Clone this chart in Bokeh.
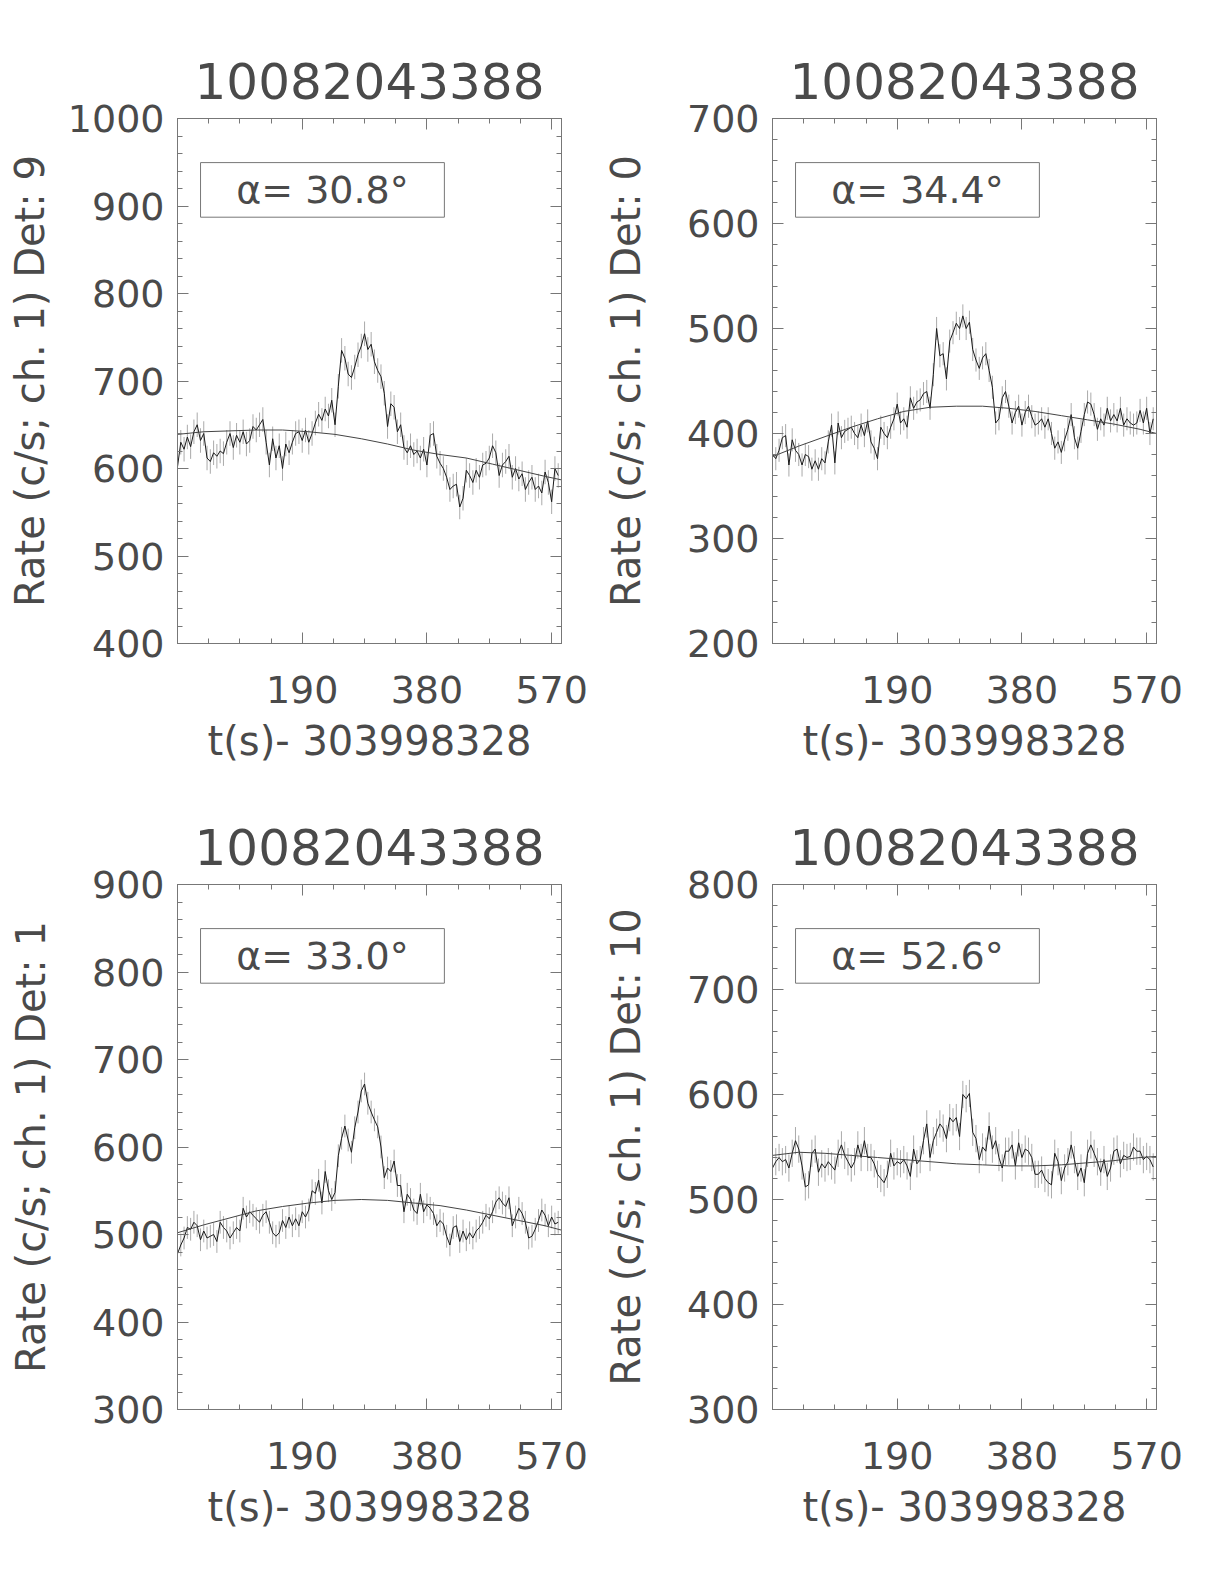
import numpy as np
from bokeh.plotting import figure
from bokeh.layouts import column, row
from bokeh.models import Range1d, LinearAxis, FixedTicker, SingleIntervalTicker
from bokeh.embed import file_html
from bokeh.resources import INLINE
from bokeh.core.properties import value

# ---------------- data ----------------
TITLE = "10082043388"
XLABEL = "t(s)- 303998328"
BIN_S = 5.0                      # time bin of the light curves (s)
X_MAX = 585
X_MAJOR = [190, 380, 570]
X_MINOR = [47.5, 95, 142.5, 237.5, 285, 332.5, 427.5, 475, 522.5]

det_labels = ["Rate (c/s; ch. 1) Det: 9", "Rate (c/s; ch. 1) Det: 0",
              "Rate (c/s; ch. 1) Det: 1", "Rate (c/s; ch. 1) Det: 10"]
alpha_deg = [30.8, 34.4, 33.0, 52.6]
y_ranges = [(400, 1000), (200, 700), (300, 900), (300, 800)]
rate_err = [14, 11, 13, 13]

rate_det9 = [602, 630, 622, 636, 625, 642, 650, 632, 640, 612, 608, 618, 614, 620, 617,
             630, 640, 624, 638, 630, 642, 628, 632, 648, 644, 650, 656, 630, 604, 634,
             612, 626, 600, 628, 618, 630, 640, 642, 632, 644, 630, 640, 652, 662, 655,
             668, 660, 678, 650, 694, 735, 726, 708, 704, 716, 730, 740, 754, 736,
             742, 722, 712, 705, 686, 648, 674, 670, 642, 650, 624, 618, 626, 616, 620,
             612, 622, 604, 638, 640, 614, 606, 600, 590, 576, 580, 582, 556, 566, 598,
             592, 584, 598, 590, 604, 606, 612, 626, 618, 592, 604, 608, 614, 590, 600,
             588, 594, 576, 584, 590, 576, 580, 572, 596, 584, 562, 600, 592]

rate_det0 = [380, 376, 384, 396, 398, 370, 394, 384, 380, 370, 380, 378, 366, 374, 366,
             376, 372, 392, 408, 372, 410, 396, 402, 404, 406, 400, 396, 408, 398, 412,
             392, 386, 376, 406, 400, 396, 406, 414, 428, 410, 414, 406, 434, 424, 430,
             432, 438, 440, 424, 456, 500, 474, 476, 452, 488, 496, 505, 500, 512,
             500, 506, 480, 470, 462, 472, 476, 460, 444, 410, 414, 434, 440, 426, 410,
             420, 426, 408, 420, 426, 416, 408, 410, 414, 406, 414, 400, 386, 392, 382,
             394, 404, 418, 396, 386, 402, 418, 430, 428, 418, 404, 414, 408, 424, 412,
             418, 412, 424, 408, 414, 410, 408, 410, 422, 410, 424, 400, 414]

rate_det1 = [478, 488, 496, 508, 506, 514, 510, 494, 504, 496, 498, 500, 492, 514, 508,
             504, 496, 502, 508, 504, 530, 520, 526, 522, 518, 514, 522, 526, 514, 502,
             498, 502, 516, 508, 520, 510, 518, 510, 526, 520, 528, 550, 547, 562, 536,
             572, 550, 540, 548, 590, 610, 624, 608, 594, 622, 640, 664, 672, 650,
             640, 631, 623, 600, 565, 576, 572, 584, 556, 556, 526, 546, 540, 528, 524,
             546, 526, 534, 530, 524, 510, 516, 512, 498, 488, 508, 510, 492, 504, 494,
             502, 496, 504, 508, 514, 522, 518, 526, 537, 542, 536, 532, 542, 510, 520,
             530, 524, 514, 496, 498, 506, 516, 528, 522, 510, 520, 512, 514]

rate_det10 = [530, 536, 540, 536, 538, 530, 544, 556, 548, 532, 512, 514, 544, 548, 526,
              534, 530, 536, 532, 528, 544, 552, 542, 536, 530, 536, 552, 540, 556, 540,
              540, 534, 524, 520, 516, 524, 544, 532, 536, 534, 538, 532, 522, 548, 534,
              538, 556, 572, 540, 556, 564, 572, 568, 558, 578, 574, 578, 560, 600,
              596, 601, 564, 558, 538, 550, 546, 570, 548, 556, 540, 530, 546, 546, 552,
              532, 554, 540, 548, 546, 540, 524, 524, 528, 520, 516, 514, 544, 536, 518,
              530, 536, 552, 538, 522, 530, 516, 544, 552, 544, 536, 526, 538, 522, 530,
              546, 548, 534, 542, 540, 541, 550, 546, 546, 538, 541, 538, 531]

bkg_t = [0, 40, 80, 120, 160, 200, 240, 280, 320, 360, 400, 440, 480, 520, 560, 585]
bkg_det9 = [639, 642, 643, 644, 644, 642, 639, 634, 628, 621, 616, 612, 605, 598, 591, 587]
bkg_det0 = [378, 388, 397, 406, 414, 421, 425, 426, 426, 424, 421, 417, 413, 409, 404, 400]
bkg_det1 = [502, 511, 519, 527, 532, 536, 539, 540, 539, 536, 533, 528, 522, 516, 510, 505]
bkg_det10 = [542, 545, 544, 542, 540, 538, 536, 534, 533, 532, 532, 533, 535, 537, 540, 541]

rates = [rate_det9, rate_det0, rate_det1, rate_det10]
bkgs = [bkg_det9, bkg_det0, bkg_det1, bkg_det10]

# ---------------- style ----------------
FONT = "DejaVu Sans"
TEXT = "#4a4a4a"
FRAME = "#777777"
ylab_standoff = [12, 35, 35, 35]


def style_axis(ax, show_labels=True):
    ax.axis_line_color = FRAME
    ax.axis_line_width = 1
    ax.major_tick_line_color = FRAME
    ax.minor_tick_line_color = FRAME
    ax.major_tick_in = 11
    ax.major_tick_out = 0
    ax.minor_tick_in = 5
    ax.minor_tick_out = 0
    ax.major_label_text_font = FONT
    ax.axis_label_text_font = FONT
    ax.axis_label_text_font_size = "40px"
    ax.axis_label_text_font_style = "normal"
    ax.axis_label_text_color = TEXT
    if show_labels:
        ax.major_label_text_font_size = "38px"
        ax.major_label_text_color = TEXT
    else:
        ax.major_label_text_font_size = "1px"
        ax.major_label_text_color = None
        ax.major_label_text_alpha = 0
        ax.major_label_standoff = 0


def make_panel(i):
    lo, hi = y_ranges[i]
    p = figure(width=595, height=766,
               x_range=Range1d(0, X_MAX), y_range=Range1d(lo, hi),
               output_backend="svg", toolbar_location=None,
               min_border_left=177, min_border_right=34,
               min_border_top=118, min_border_bottom=122)
    p.background_fill_color = "white"
    p.border_fill_color = "white"
    p.outline_line_color = FRAME
    p.grid.visible = False

    p.title.text = TITLE
    p.title.align = "center"
    p.title.text_font = FONT
    p.title.text_font_size = "50px"
    p.title.text_font_style = "normal"
    p.title.text_color = TEXT
    p.title.standoff = 39

    xt = FixedTicker(ticks=X_MAJOR, minor_ticks=X_MINOR)
    yt = SingleIntervalTicker(interval=100, num_minor_ticks=5)

    xa = p.xaxis[0]
    xa.ticker = xt
    style_axis(xa)
    xa.major_label_standoff = 32
    xa.axis_label = XLABEL
    xa.axis_label_standoff = 12

    ya = p.yaxis[0]
    ya.ticker = yt
    style_axis(ya)
    ya.major_label_standoff = 13
    ya.axis_label = det_labels[i]
    ya.axis_label_standoff = ylab_standoff[i]

    top = LinearAxis(ticker=xt)
    style_axis(top, show_labels=False)
    p.add_layout(top, "above")
    right = LinearAxis(ticker=yt)
    style_axis(right, show_labels=False)
    p.add_layout(right, "right")

    r = np.array(rates[i], dtype=float)
    t = np.arange(len(r)) * BIN_S
    e = rate_err[i]
    p.segment(x0=t, y0=r - e, x1=t, y1=r + e, line_color="#aaaaaa", line_width=1)
    p.line(t, r, line_color="#1a1a1a", line_width=1)
    p.line(bkg_t, bkgs[i], line_color="#444444", line_width=1)

    # annotation box (position given as fractions of the frame)
    x0, x1 = X_MAX * 0.06, X_MAX * 0.695
    yb, ytp = lo + (hi - lo) * 0.812, lo + (hi - lo) * 0.916
    p.quad(left=[x0], right=[x1], bottom=[yb], top=[ytp],
           fill_color=None, line_color=FRAME, line_width=1)
    p.text(x=[(x0 + x1) / 2], y=[(yb + ytp) / 2],
           text=["\u03b1= %.1f\u00b0" % alpha_deg[i]],
           text_align="center", text_baseline="middle",
           text_font=value(FONT), text_font_size="38px", text_color=TEXT)
    return p


panels = [make_panel(i) for i in range(4)]
layout = column(row(panels[0], panels[1]), row(panels[2], panels[3]))

open("out.html", "w").write(file_html(layout, INLINE))
